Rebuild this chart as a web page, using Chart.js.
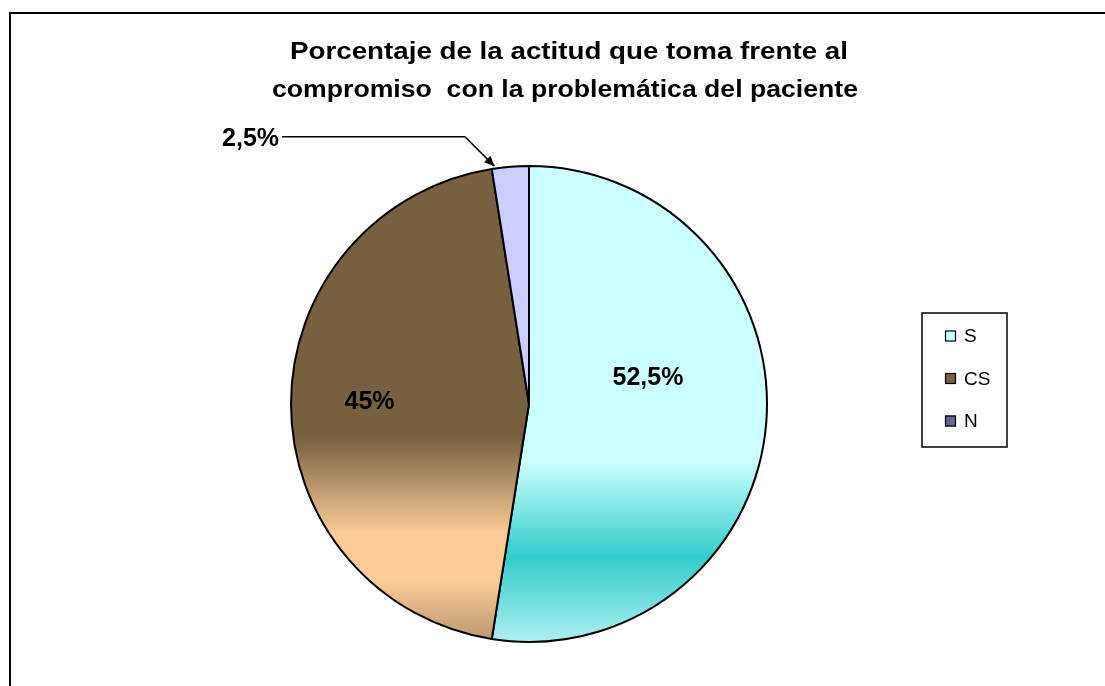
<!DOCTYPE html>
<html>
<head>
<meta charset="utf-8">
<script src="https://cdn.jsdelivr.net/npm/chart.js@4.4.1/dist/chart.umd.min.js"></script>
<style>
html,body{margin:0;padding:0;background:#fff;}
#wrap{width:1105px;height:686px;position:relative;}
canvas{display:block;}
</style>
</head>
<body>
<div id="wrap"><canvas id="c" width="1105" height="686"></canvas></div>
<script>
// ---- data ----
const titleLines = ['Porcentaje de la actitud que toma frente al', 'compromiso  con la problemática del paciente'];
const categories = ['S', 'CS', 'N'];
const values = [52.5, 45, 2.5];
const valueLabels = ['52,5%', '45%', '2,5%'];
const legendColors = ['#CCFFFF', '#78603F', '#66668A'];

// ---- styles ----
const FONT = '"Liberation Sans", Arial, Helvetica, sans-serif';
const gradientStops = [
  [[0, '#CCFFFF'], [0.62, '#CCFFFF'], [0.82, '#33CCCC'], [1, '#B0F0F0']],
  [[0, '#77603F'], [0.57, '#77603F'], [0.77, '#FCCB98'], [0.87, '#FCCB98'], [1, '#B8946E']],
  [[0, '#CCCCFF'], [1, '#CCCCFF']]
];
// label placement as fractions of radius relative to pie centre
const labelOffsets = [[0.50, -0.11], [-0.67, -0.01], [-1.05, -1.115]];
// title line layout: [centre x, baseline y, target width]
const titleLayout = [[569, 59, 558], [565, 97, 586]];

function sliceFill(ctx) {
  const chart = ctx.chart;
  const i = ctx.dataIndex;
  const ca = chart.chartArea;
  if (!ca) return legendColors[i];
  const g = chart.ctx.createLinearGradient(0, ca.top, 0, ca.bottom);
  gradientStops[i].forEach(s => g.addColorStop(s[0], s[1]));
  return g;
}

const decor = {
  id: 'decor',
  afterDraw(chart) {
    const c = chart.ctx;
    c.save();
    // frame
    c.strokeStyle = '#000';
    c.lineWidth = 2;
    c.strokeRect(10, 13, 1300, 900);

    // title (horizontally stretched to the reference width)
    c.fillStyle = '#000';
    c.textBaseline = 'alphabetic';
    c.textAlign = 'center';
    c.font = 'bold 23px ' + FONT;
    titleLines.forEach((t, k) => {
      const [cx, by, tw] = titleLayout[k];
      const w = c.measureText(t).width;
      const sx = tw / w;
      c.save();
      c.translate(cx, by);
      c.scale(sx, 1);
      c.fillText(t, 0, 0);
      c.restore();
    });

    // data labels
    c.textBaseline = 'middle';
    const meta = chart.getDatasetMeta(0);
    c.font = 'bold 25px ' + FONT;
    meta.data.forEach((arc, i) => {
      const r = arc.outerRadius;
      const lx = arc.x + labelOffsets[i][0] * r;
      const ly = arc.y + labelOffsets[i][1] * r;
      if (i < 2) {
        c.textAlign = 'center';
        c.fillText(valueLabels[i], lx, ly);
      } else {
        c.textAlign = 'right';
        c.fillText(valueLabels[i], lx, ly);
        // leader line with arrow
        const a = arc.startAngle + 0.08 * (arc.endAngle - arc.startAngle);
        const tx = arc.x + Math.cos(a) * r * 1.01;
        const ty = arc.y + Math.sin(a) * r * 1.01;
        const by = ly - 2;
        const bx = tx - (ty - by);
        c.beginPath();
        c.lineWidth = 1.5;
        c.moveTo(lx + 3, by);
        c.lineTo(bx, by);
        c.lineTo(tx, ty);
        c.stroke();
        const ang = Math.atan2(ty - by, tx - bx);
        const L = 10, W = 4.5;
        c.beginPath();
        c.moveTo(tx, ty);
        c.lineTo(tx - L * Math.cos(ang) + W * Math.sin(ang), ty - L * Math.sin(ang) - W * Math.cos(ang));
        c.lineTo(tx - L * Math.cos(ang) - W * Math.sin(ang), ty - L * Math.sin(ang) + W * Math.cos(ang));
        c.closePath();
        c.fill();
      }
    });

    // legend
    c.lineWidth = 1.5;
    c.strokeStyle = '#000';
    c.strokeRect(922, 313, 85, 134);
    c.font = '19px ' + FONT;
    c.textAlign = 'left';
    categories.forEach((name, i) => {
      const y = 336 + i * 42.5;
      c.fillStyle = legendColors[i];
      c.fillRect(945, y - 5.5, 11, 11);
      c.lineWidth = 1.2;
      c.strokeStyle = '#000';
      c.strokeRect(945.5, y - 5, 10, 10);
      c.fillStyle = '#000';
      c.fillText(name, 964, y + 1);
    });
    c.restore();
  }
};

new Chart(document.getElementById('c'), {
  type: 'pie',
  data: {
    labels: categories,
    datasets: [{
      data: values,
      backgroundColor: sliceFill,
      borderColor: '#000',
      borderWidth: 2
    }]
  },
  options: {
    responsive: false,
    animation: false,
    devicePixelRatio: 1,
    layout: { padding: { left: 200, right: 247, top: 165, bottom: 43 } },
    plugins: {
      legend: { display: false },
      title: { display: false },
      tooltip: { enabled: false }
    }
  },
  plugins: [decor]
});
</script>
</body>
</html>
